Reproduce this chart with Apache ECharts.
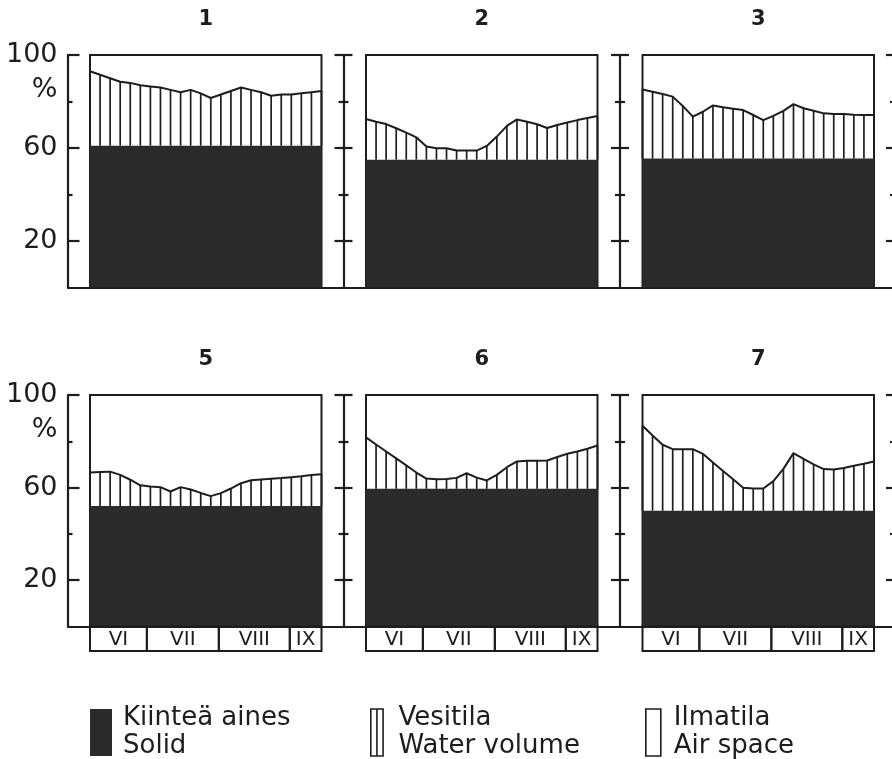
<!DOCTYPE html>
<html>
<head>
<meta charset="utf-8">
<script src="https://cdn.jsdelivr.net/npm/echarts@6/dist/echarts.min.js"></script>
<style>
  html, body { margin: 0; padding: 0; background: #fff; }
  #chart { width: 892px; height: 759px; }
</style>
</head>
<body>
<div id="chart"></div>
<script>
// Soil volume composition (%) over the growing season, sampling sites 1-3 and 5-7.
const panelTitles = ['1', '2', '3', '5', '6', '7'];

// Solid fraction per site (constant through the season)
const solidLevel = [61, 55, 55.5, 52, 59.5, 50];

// Solid + water volume (%) at successive sampling dates
const water1 = [93, 91.5, 90, 88.5, 88, 87, 86.5, 86, 85, 84, 85, 83.5, 81.5, 83, 84.5, 86, 85, 84, 82.5, 83, 83, 83.5, 84, 84.5];
const water2 = [72.5, 71.3, 70.3, 68.5, 66.6, 64.6, 60.6, 59.9, 59.9, 58.9, 58.9, 58.9, 60.9, 64.9, 69.5, 72.3, 71.3, 70.2, 68.6, 69.9, 71.0, 72.0, 72.9, 73.8];
const water3 = [85.2, 84.2, 83.2, 82.1, 78.1, 73.5, 75.6, 78.3, 77.5, 76.9, 76.3, 74.2, 72.0, 73.8, 76.0, 78.9, 77.1, 76.0, 74.9, 74.6, 74.6, 74.3, 74.2, 74.2];
const water5 = [66.5, 66.7, 66.9, 65.5, 63.4, 61.0, 60.5, 60.2, 58.3, 60.2, 59.2, 57.7, 56.3, 57.6, 59.6, 61.9, 63.2, 63.5, 63.8, 64.1, 64.5, 64.9, 65.4, 65.8];
const water6 = [81.7, 78.6, 75.6, 72.6, 69.6, 66.5, 63.9, 63.6, 63.7, 64.2, 66.2, 64.3, 63.1, 65.5, 68.8, 71.3, 71.6, 71.6, 71.7, 73.2, 74.6, 75.6, 76.8, 78.2];
const water7 = [86.7, 82.5, 78.5, 76.6, 76.6, 76.6, 74.6, 70.8, 67.2, 63.6, 59.9, 59.6, 59.6, 62.8, 68.1, 74.9, 72.4, 70.0, 68.0, 67.8, 68.5, 69.4, 70.3, 71.3];
const waterSeries = [water1, water2, water3, water5, water6, water7];

// Month bands along the sampling index axis
const months = ['VI', 'VII', 'VIII', 'IX'];
const monthEdges = [0, 5.65, 12.8, 19.85, 23];

// Y-axis ticks
const majorTicks = [20, 60, 100];
const minorTicks = [40, 80];
const labelTicks = [20, 60, 80, 100];

// Legend entries
const legendNames = ['Kiinteä aines', 'Vesitila', 'Ilmatila'];
const legendEnglish = ['Solid', 'Water volume', 'Air space'];

const INK = '#1d1d1d';
const FILL = '#2b2b2b';
const FONT = 'DejaVu Sans';

const colLeft = [90, 366, 642.5, 917.5];
const boxW = 231.5;
const rowTop = [55, 395];
const rowH = [232.5, 231.5];
const axisGap = 22.5;
const xMax = water1.length - 1;

const grids = [], xAxes = [], yAxes = [], series = [], titles = [];

function baseY(gi) {
  return {
    gridIndex: gi, type: 'value', min: 0, max: 100, position: 'left', offset: axisGap,
    splitLine: { show: false },
    axisLine: { show: false, onZero: false },
    axisTick: { show: false },
    axisLabel: { show: false }
  };
}
function tickAxis(gi, values, inside, len, withLine) {
  const a = baseY(gi);
  a.axisTick = { show: true, inside: inside, length: len, customValues: values, lineStyle: { color: INK, width: 2.2 } };
  if (withLine) a.axisLine = { show: true, onZero: false, lineStyle: { color: INK, width: 2.2 } };
  return a;
}

function hatchItem(params, api) {
  const a = api.coord([api.value(0), api.value(1)]);
  const b = api.coord([api.value(0), api.value(2)]);
  return { type: 'line', shape: { x1: a[0], y1: a[1], x2: b[0], y2: b[1] }, style: { stroke: INK, lineWidth: 1.7 } };
}
function solidItem(params, api) {
  const a = api.coord([api.value(0), api.value(2)]);
  const b = api.coord([api.value(1), 0]);
  return { type: 'rect', shape: { x: a[0], y: a[1], width: b[0] - a[0], height: b[1] - a[1] }, style: { fill: FILL } };
}
function airItem(params, api) {
  const a = api.coord([api.value(0), api.value(2)]);
  const b = api.coord([api.value(1), 0]);
  return { type: 'rect', shape: { x: a[0], y: a[1], width: b[0] - a[0], height: b[1] - a[1] }, style: { fill: 'rgba(255,255,255,0)' } };
}

for (let r = 0; r < 2; r++) {
  // continuous baseline under each row
  const bg = grids.length;
  grids.push({ left: 68, top: rowTop[r], width: 840, height: rowH[r], show: false });
  xAxes.push({ gridIndex: bg, type: 'value', min: 0, max: 1, axisLine: { show: true, onZero: false, lineStyle: { color: INK, width: 2.2 } }, axisTick: { show: false }, axisLabel: { show: false }, splitLine: { show: false } });
  yAxes.push({ gridIndex: bg, type: 'value', min: 0, max: 1, show: false });

  for (let c = 0; c < 4; c++) {
    const gi = grids.length;
    grids.push({ left: colLeft[c], top: rowTop[r], width: boxW, height: rowH[r], show: c < 3, borderColor: INK, borderWidth: 2, backgroundColor: 'transparent' });
    xAxes.push({ gridIndex: gi, type: 'value', min: 0, max: xMax, show: false });
    const yi = yAxes.length;
    if (c === 0) {
      const main = tickAxis(gi, majorTicks, true, 12, true);
      main.axisLabel = {
        show: true, customValues: labelTicks, margin: 10,
        color: INK, fontFamily: FONT, fontSize: 27,
        formatter: v => (v === 80 ? '{p|%}' : String(v)),
        rich: { p: { fontFamily: FONT, fontSize: 27, color: INK, padding: [0, 0, 23, 0] } }
      };
      yAxes.push(main);
      yAxes.push(tickAxis(gi, minorTicks, true, 5, false));
    } else {
      yAxes.push(tickAxis(gi, majorTicks, true, 9, true));
      yAxes.push(tickAxis(gi, majorTicks, false, 9, false));
      yAxes.push(tickAxis(gi, minorTicks, true, 5, false));
      yAxes.push(tickAxis(gi, minorTicks, false, 5, false));
    }
    if (c === 3) continue;

    const p = r * 3 + c;
    const s = solidLevel[p];
    const w = waterSeries[p];
    const xi = xAxes.length - 1;
    titles.push({ text: panelTitles[p], left: colLeft[c] + boxW / 2, top: rowTop[r] - 46, textAlign: 'center', padding: 0,
      textStyle: { fontFamily: FONT, fontSize: 21, fontWeight: 'bold', color: INK } });

    series.push({ type: 'custom', name: 'Ilmatila', xAxisIndex: xi, yAxisIndex: yi, renderItem: airItem,
      encode: { x: [0, 1], y: 2 }, data: [[0, xMax, 100]], silent: true, z: 1 });
    series.push({ type: 'custom', name: 'Kiinteä aines', xAxisIndex: xi, yAxisIndex: yi, renderItem: solidItem,
      encode: { x: [0, 1], y: 2 }, data: [[0, w.length - 1, s]], silent: true, z: 2 });
    series.push({ type: 'custom', name: 'Vesitila', xAxisIndex: xi, yAxisIndex: yi, renderItem: hatchItem,
      encode: { x: 0, y: [1, 2] }, data: w.map((v, i) => [i, s, v]), silent: true, z: 3 });
    series.push({ type: 'line', xAxisIndex: xi, yAxisIndex: yi, data: w.map((v, i) => [i, v]),
      symbol: 'none', lineStyle: { color: INK, width: 2 }, silent: true, z: 4 });

    if (r === 1) {
      // month band boxes under the bottom row
      const mg = grids.length;
      grids.push({ left: colLeft[c], top: rowTop[r] + rowH[r], width: boxW, height: 24.5, show: false });
      xAxes.push({ gridIndex: mg, type: 'value', min: 0, max: xMax, show: false });
      yAxes.push({ gridIndex: mg, type: 'value', min: 0, max: 1, show: false });
      series.push({
        type: 'custom', xAxisIndex: xAxes.length - 1, yAxisIndex: yAxes.length - 1, silent: true,
        encode: { x: [0, 1] },
        data: months.map((m, k) => [monthEdges[k], monthEdges[k + 1]]),
        renderItem: (params, api) => {
          const a = api.coord([api.value(0), 0]);
          const b = api.coord([api.value(1), 1]);
          return { type: 'group', children: [
            { type: 'rect', shape: { x: a[0], y: b[1], width: b[0] - a[0], height: a[1] - b[1] },
              style: { fill: 'none', stroke: INK, lineWidth: 2 } },
            { type: 'text', style: { text: months[params.dataIndex], x: (a[0] + b[0]) / 2, y: (a[1] + b[1]) / 2 + 1,
              align: 'center', verticalAlign: 'middle', font: '20px "' + FONT + '"', fill: INK } }
          ] };
        }
      });
    }
  }
}

const legendIcons = ['rect', 'path://M0,0H12V46H0Z M6,0V46', 'rect'];
const legendStyles = [
  { color: FILL, borderWidth: 0 },
  { color: '#fff', borderColor: INK, borderWidth: 1.6 },
  { color: '#fff', borderColor: INK, borderWidth: 1.6 }
];
const legendLeft = [90, 370, 645];
const legendIconW = [22, 15, 15];
const legendTextGap = [6, 9, 8];
const legends = legendNames.map((n, k) => ({
  left: legendLeft[k], top: 704.5, orient: 'horizontal', selectedMode: false,
  itemWidth: legendIconW[k], itemHeight: 47, itemGap: 0, padding: 0,
  data: [{ name: n, icon: legendIcons[k], itemStyle: legendStyles[k] }],
  formatter: name => name + '\n' + legendEnglish[k],
  textStyle: { fontFamily: FONT, fontSize: 26, color: INK, lineHeight: 28, padding: [0, 0, 0, legendTextGap[k]] }
}));

const chart = echarts.init(document.getElementById('chart'), null, { renderer: 'canvas' });
chart.setOption({
  animation: false,
  backgroundColor: '#fff',
  title: titles,
  legend: legends,
  grid: grids,
  xAxis: xAxes,
  yAxis: yAxes,
  series: series
});
</script>
</body>
</html>
